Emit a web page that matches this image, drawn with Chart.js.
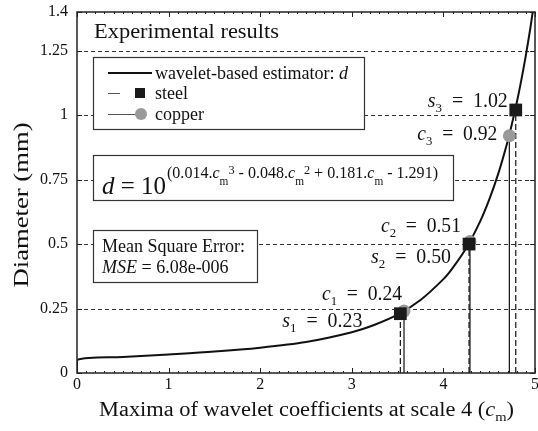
<!DOCTYPE html>
<html>
<head>
<meta charset="utf-8">
<script src="https://cdn.jsdelivr.net/npm/chart.js@4/dist/chart.umd.min.js"></script>
<style>
  html, body { margin: 0; padding: 0; background: #fff; }
  #wrap { width: 538px; height: 431px; position: relative; }
</style>
</head>
<body>
<div id="wrap"><canvas id="chart"></canvas></div>
<script>
// wavelet-based estimator d
const curveCm = [0, 0, 0.5, 1, 1.5, 2, 2.5, 3, 3.25, 3.5, 3.75, 4, 4.1, 4.25, 4.4, 4.5, 4.6, 4.7, 4.75, 4.8, 4.85, 4.9, 4.95, 4.975];
const curveD = [0, 0.051, 0.062, 0.072, 0.083, 0.098, 0.120, 0.158, 0.187, 0.226, 0.283, 0.364, 0.407, 0.485, 0.587, 0.672, 0.774, 0.897, 0.969, 1.047, 1.135, 1.232, 1.339, 1.40];

// measured samples
const steelCm = [3.53, 4.28, 4.79];
const steelD = [0.23, 0.50, 1.02];
const copperCm = [3.57, 4.29, 4.72];
const copperD = [0.24, 0.51, 0.92];

const xTicks = [0, 1, 2, 3, 4, 5];
const yTicks = [0, 0.25, 0.5, 0.75, 1, 1.25, 1.4];
const gridLevels = [0.25, 0.5, 0.75, 1, 1.25];

const SERIF = '"Liberation Serif", "Times New Roman", serif';
const font = (size, italic) => (italic ? 'italic ' : '') + size + 'px ' + SERIF;

// text made of runs: [text, size, italic, dy]; optional width stretches it
function runsWidth(ctx, runs) {
    let w = 0;
    for (const r of runs) { ctx.font = font(r[1], r[2]); w += ctx.measureText(r[0]).width; }
    return w;
}
function drawRuns(ctx, x, y, runs, align, width) {
    const nat = runsWidth(ctx, runs);
    const w = width || nat;
    if (align === 'right') x -= w;
    else if (align === 'center') x -= w / 2;
    ctx.save();
    ctx.translate(x, y);
    ctx.scale(w / nat, 1);
    ctx.textAlign = 'left';
    ctx.textBaseline = 'alphabetic';
    ctx.fillStyle = '#111';
    let cx = 0;
    for (const r of runs) {
        ctx.font = font(r[1], r[2]);
        ctx.fillText(r[0], cx, r[3] || 0);
        cx += ctx.measureText(r[0]).width;
    }
    ctx.restore();
}
function box(ctx, x0, y0, x1, y1) {
    ctx.save();
    ctx.fillStyle = '#fff';
    ctx.fillRect(x0, y0, x1 - x0, y1 - y0);
    ctx.strokeStyle = '#333';
    ctx.lineWidth = 1.2;
    ctx.strokeRect(x0 + 0.5, y0 + 0.5, x1 - x0, y1 - y0);
    ctx.restore();
}

function stems(cm, d) {
    const pts = [];
    cm.forEach((c, i) => { pts.push({x: c, y: 0}, {x: c, y: d[i]}, {x: c, y: null}); });
    return pts;
}
const toPts = (xs, ys) => xs.map((x, i) => ({x: x, y: ys[i]}));

// label offsets from each marker, in pixels
const steelLabelOff = [[-38, 13], [-18, 19], [-8, -3]];
const copperLabelOff = [[-2, -11], [-9, -9], [-12, 4]];
const EQ = '\u2002=\u2002';

const decor = {
    id: 'decor',
    beforeDatasetsDraw(chart) {
        const {ctx, chartArea: a, scales: {y}} = chart;
        ctx.save();
        ctx.strokeStyle = '#333';
        ctx.lineWidth = 1;
        ctx.setLineDash([4, 3]);
        gridLevels.forEach(v => {
            const py = Math.round(y.getPixelForValue(v)) + 0.5;
            ctx.beginPath(); ctx.moveTo(a.left, py); ctx.lineTo(a.right, py); ctx.stroke();
        });
        ctx.restore();
    },
    afterDatasetsDraw(chart) {
        const {ctx, scales: {x, y}} = chart;
        ctx.save();
        drawRuns(ctx, 94, 38, [['Experimental results', 20]], 'left', 185);

        // legend
        box(ctx, 93, 57, 364, 129);
        ctx.strokeStyle = '#111';
        ctx.lineWidth = 2;
        ctx.beginPath(); ctx.moveTo(108, 73); ctx.lineTo(152, 73); ctx.stroke();
        ctx.lineWidth = 1;
        ctx.strokeStyle = '#555';
        ctx.beginPath(); ctx.moveTo(108, 93.5); ctx.lineTo(120, 93.5); ctx.stroke();
        ctx.beginPath(); ctx.moveTo(108, 114.5); ctx.lineTo(138, 114.5); ctx.stroke();
        ctx.fillStyle = '#1a1a1a';
        ctx.fillRect(135, 88, 10, 10);
        ctx.fillStyle = '#999';
        ctx.beginPath(); ctx.arc(141, 114, 6, 0, Math.PI * 2); ctx.fill();
        drawRuns(ctx, 155, 79, [['wavelet-based estimator: ', 18], ['d', 18, true]]);
        drawRuns(ctx, 155, 99, [['steel', 18]]);
        drawRuns(ctx, 155, 120, [['copper', 18]]);

        // equation
        box(ctx, 93, 155, 453, 200);
        drawRuns(ctx, 102, 194, [['d', 26, true], [' = 10', 26]], 'left', 64);
        const e = 17, s = 12;
        drawRuns(ctx, 167, 194, [
            ['(0.014.', e, false, -16], ['c', e, true, -16], ['m', s, false, -9], ['3', s + 1, false, -20],
            [' - 0.048.', e, false, -16], ['c', e, true, -16], ['m', s, false, -9], ['2', s + 1, false, -20],
            [' + 0.181.', e, false, -16], ['c', e, true, -16], ['m', s, false, -9],
            [' - 1.291)', e, false, -16]
        ], 'left', 271);

        // mean square error
        box(ctx, 93, 230, 257, 282);
        drawRuns(ctx, 102, 252, [['Mean Square Error:', 18]]);
        drawRuns(ctx, 102, 273, [['MSE', 18, true], [' = 6.08e-006', 18]]);

        // marker labels
        steelCm.forEach((c, i) => {
            const px = x.getPixelForValue(c) + steelLabelOff[i][0];
            const py = y.getPixelForValue(steelD[i]) + steelLabelOff[i][1];
            drawRuns(ctx, px, py, [['s', 20, true], [String(i + 1), 13, false, 5], [EQ + steelD[i].toFixed(2), 20]], 'right', 80);
        });
        copperCm.forEach((c, i) => {
            const px = x.getPixelForValue(c) + copperLabelOff[i][0];
            const py = y.getPixelForValue(copperD[i]) + copperLabelOff[i][1];
            drawRuns(ctx, px, py, [['c', 20, true], [String(i + 1), 13, false, 5], [EQ + copperD[i].toFixed(2), 20]], 'right', 80);
        });
        ctx.restore();
    },
    afterDraw(chart) {
        const {ctx, chartArea: a, scales: {x, y}} = chart;
        ctx.save();
        ctx.strokeStyle = '#222';
        ctx.lineWidth = 1.5;
        ctx.strokeRect(a.left, a.top, a.right - a.left, a.bottom - a.top);
        ctx.lineWidth = 1;
        ctx.beginPath();
        for (let v = 0; v <= 5.001; v += 0.1) {
            const px = Math.round(x.getPixelForValue(v)) + 0.5;
            const major = Math.abs(v - Math.round(v)) < 0.01;
            const len = major ? 5 : 2;
            ctx.moveTo(px, a.bottom); ctx.lineTo(px, a.bottom - len);
            ctx.moveTo(px, a.top); ctx.lineTo(px, a.top + len);
        }
        yTicks.forEach(v => {
            const py = Math.round(y.getPixelForValue(v)) + 0.5;
            ctx.moveTo(a.left, py); ctx.lineTo(a.left + 5, py);
            ctx.moveTo(a.right, py); ctx.lineTo(a.right - 5, py);
        });
        ctx.stroke();

        // x tick labels
        ctx.fillStyle = '#111';
        ctx.font = font(16);
        ctx.textAlign = 'center';
        ctx.textBaseline = 'top';
        xTicks.forEach(v => ctx.fillText(String(v), x.getPixelForValue(v), a.bottom + 4));

        // axis titles
        drawRuns(ctx, (a.left + a.right) / 2 + 0.5, 416, [
            ['Maxima of wavelet coefficients at scale 4 (', 20], ['c', 20, true], ['m', 13, false, 5], [')', 20]
        ], 'center', 415);
        ctx.save();
        ctx.translate(28, 205);
        ctx.rotate(-Math.PI / 2);
        drawRuns(ctx, 0, 0, [['Diameter (mm)', 21]], 'center', 165);
        ctx.restore();
        ctx.restore();
    }
};

function build() {
    new Chart(document.getElementById('chart'), {
        type: 'line',
        data: {
            datasets: [
                {
                    label: 'steel',
                    type: 'scatter',
                    data: toPts(steelCm, steelD),
                    pointStyle: 'rect',
                    pointRadius: 9,
                    pointBackgroundColor: '#1a1a1a',
                    pointBorderWidth: 0,
                    order: 1
                },
                {
                    label: 'copper',
                    type: 'scatter',
                    data: toPts(copperCm, copperD),
                    pointStyle: 'circle',
                    pointRadius: 6.5,
                    pointBackgroundColor: '#999',
                    pointBorderWidth: 0,
                    order: 2
                },
                {
                    label: 'wavelet-based estimator: d',
                    data: toPts(curveCm, curveD),
                    borderColor: '#111',
                    borderWidth: 2,
                    pointRadius: 0,
                    tension: 0.3,
                    order: 3
                },
                {
                    label: 'steel stems',
                    data: stems(steelCm, steelD),
                    borderColor: '#111',
                    borderWidth: 1.2,
                    borderDash: [6, 3],
                    pointRadius: 0,
                    spanGaps: false,
                    order: 4
                },
                {
                    label: 'copper stems',
                    data: stems(copperCm, copperD),
                    borderColor: '#111',
                    borderWidth: 1.2,
                    pointRadius: 0,
                    spanGaps: false,
                    order: 5
                }
            ]
        },
        options: {
            responsive: true,
            maintainAspectRatio: false,
            animation: false,
            layout: { autoPadding: false, padding: { top: 12, right: 3, left: 0, bottom: 0 } },
            plugins: { legend: { display: false }, tooltip: { enabled: false } },
            scales: {
                x: {
                    type: 'linear',
                    min: 0, max: 5,
                    afterBuildTicks: s => { s.ticks = xTicks.map(v => ({value: v})); },
                    afterFit: s => { s.height = 58; },
                    grid: { display: false, drawTicks: false },
                    border: { display: false },
                    ticks: { display: false },
                    title: { display: false }
                },
                y: {
                    min: 0, max: 1.4,
                    afterBuildTicks: s => { s.ticks = yTicks.map(v => ({value: v})); },
                    afterFit: s => { s.width = 77; s.paddingTop = 0; s.paddingBottom = 0; },
                    grid: { display: false, drawTicks: false },
                    border: { display: false },
                    ticks: {
                        padding: 9, color: '#111', font: { family: SERIF, size: 16 },
                        callback: v => String(+v.toFixed(2))
                    },
                    title: { display: false }
                }
            }
        },
        plugins: [decor]
    });
}

if (document.fonts && document.fonts.load) {
    Promise.all([
        document.fonts.load('16px "Liberation Serif"'),
        document.fonts.load('italic 16px "Liberation Serif"')
    ]).then(build, build);
} else {
    build();
}
</script>
</body>
</html>
